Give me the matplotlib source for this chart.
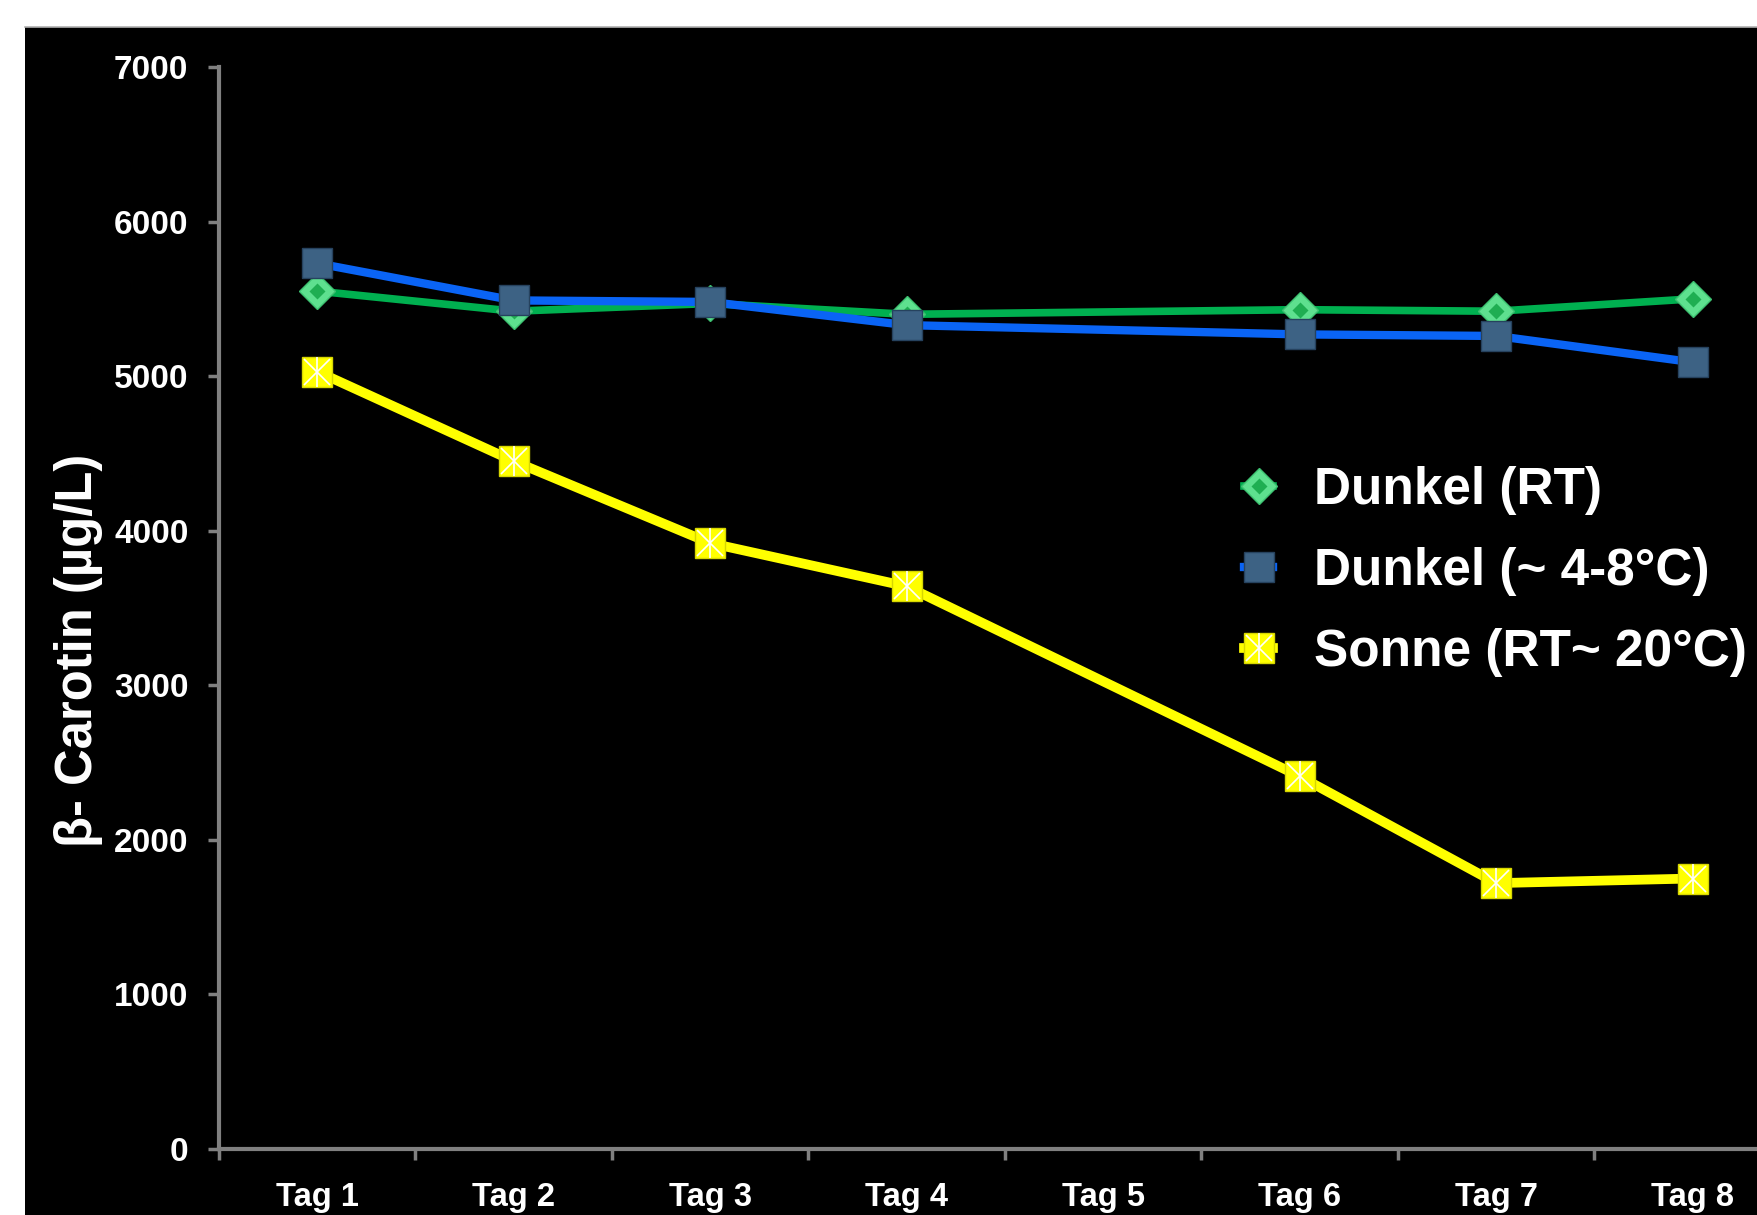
import matplotlib.pyplot as plt
import numpy as np
from matplotlib import font_manager
from matplotlib.patches import Rectangle
from matplotlib.lines import Line2D
from matplotlib.legend_handler import HandlerLine2D, HandlerTuple

days = ["Tag 1", "Tag 2", "Tag 3", "Tag 4", "Tag 5", "Tag 6", "Tag 7", "Tag 8"]
measured_idx = [0, 1, 2, 3, 5, 6, 7]
dunkel_rt = [5550, 5420, 5470, 5400, 5430, 5420, 5500]
dunkel_kalt = [5730, 5490, 5480, 5330, 5270, 5260, 5090]
sonne = [5030, 4450, 3920, 3640, 2410, 1720, 1750]
labels = ["Dunkel (RT)", "Dunkel (~ 4-8°C)", "Sonne (RT~ 20°C)"]
yticks = [0, 1000, 2000, 3000, 4000, 5000, 6000, 7000]

installed = {f.name for f in font_manager.fontManager.ttflist}
wide = ['Liberation Sans', 'DejaVu Sans']
narrow = (['Liberation Sans Narrow'] + wide) if 'Liberation Sans Narrow' in installed else wide
tick_size = 25 if narrow[0] == 'Liberation Sans Narrow' else 23.5


class HandlerEnd(HandlerLine2D):
    # marker sits at the right end of the short legend line
    def get_xdata(self, legend, xdescent, ydescent, width, height, fontsize):
        xdata = [-xdescent, -xdescent + width]
        return xdata, [-xdescent + width]


fig = plt.figure(figsize=(17.58, 12.15), dpi=100)
fig.patch.set_facecolor('white')
bg = Rectangle((25 / 1758, 0), 1, (1215 - 27) / 1215, transform=fig.transFigure,
               facecolor='black', edgecolor='none', zorder=0)
fig.add_artist(bg)
fig.add_artist(Line2D([25 / 1758, 1], [(1215 - 27) / 1215] * 2, transform=fig.transFigure,
                      color='#b0b0b0', lw=1.2, zorder=1))

ax = fig.add_axes([219 / 1758, 66 / 1215, 1572 / 1758, 1082 / 1215])
ax.set_facecolor('none')
ax.set_zorder(2)

x = np.array(measured_idx)

l1, = ax.plot(x, dunkel_rt, color='#00b050', lw=5.5, marker='D', ms=18,
              mfc='#5ee08f', mec='#3cc070', mew=1, zorder=3)
c1, = ax.plot(x, dunkel_rt, ls='none', marker='D', ms=8, mfc='#1fae52', mec='none', zorder=3)

l2, = ax.plot(x, dunkel_kalt, color='#0a64f5', lw=6, marker='s', ms=21,
              mfc='#3d6284', mec='#26425e', mew=1, zorder=4)

l3, = ax.plot(x, sonne, color='#ffff00', lw=7, marker='s', ms=21,
              mfc='#ffff00', mec='#d6d600', mew=1, zorder=5)
o1, = ax.plot(x, sonne, ls='none', marker='x', ms=19, mec='white', mew=1.2, zorder=6)
o2, = ax.plot(x, sonne, ls='none', marker='|', ms=21, mec='white', mew=1.2, zorder=6)

ax.set_ylim(0, 7000)
ax.set_xlim(-0.5, 7.5)
ax.set_yticks(yticks)
ax.set_yticklabels([str(v) for v in yticks], family=narrow, fontweight='bold',
                   fontsize=24, color='white')
ax.set_xticks(range(len(days)))
ax.set_xticklabels(days, family=narrow, fontweight='bold', fontsize=tick_size, color='white')
ax.set_xticks(np.arange(-0.5, 8, 1), minor=True)
ax.tick_params(axis='x', which='major', length=0, pad=24)
ax.tick_params(axis='x', which='minor', length=8, width=2.5, color='#808080', direction='out')
ax.tick_params(axis='y', length=8, width=2.5, color='#808080', direction='out', pad=14)

for s in ['top', 'right']:
    ax.spines[s].set_visible(False)
for s in ['left', 'bottom']:
    ax.spines[s].set_color('#808080')
    ax.spines[s].set_linewidth(3)

ax.set_ylabel("β- Carotin (µg/L)", family=wide, fontweight='bold', fontsize=36.5, color='white')
ax.yaxis.set_label_coords(-0.074, 0.461)

leg = ax.legend([(l1, c1), l2, (l3, o1, o2)], labels,
                handler_map={Line2D: HandlerEnd(), tuple: HandlerTuple(ndivide=1)},
                loc='upper left', bbox_to_anchor=(1244 / 1758, (1215 - 466) / 1215),
                bbox_transform=fig.transFigure, frameon=False, borderpad=0,
                borderaxespad=0, handlelength=0.57, handletextpad=0.8,
                labelspacing=0.62, prop={'family': wide, 'weight': 'bold', 'size': 37})
for t in leg.get_texts():
    t.set_color('white')

fig.savefig('out.png', dpi=100, facecolor=fig.get_facecolor())
